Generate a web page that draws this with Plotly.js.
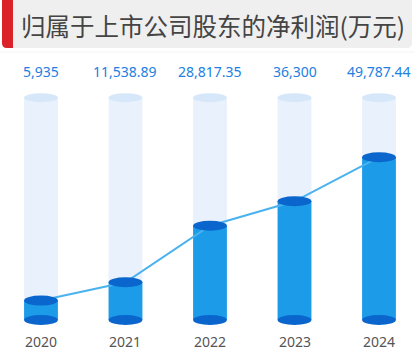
<!DOCTYPE html>
<html>
<head>
<meta charset="utf-8">
<script src="https://cdn.plot.ly/plotly-3.0.1.min.js"></script>
<style>html,body{margin:0;padding:0;background:#fff;}#chart{width:415px;height:353px;}</style>
</head>
<body>
<div id="chart"></div>
<script>
// ---- data ----
const years = ["2020", "2021", "2022", "2023", "2024"];
const profit = [5935, 11538.89, 28817.35, 36300, 49787.44];
const valueLabels = ["5,935", "11,538.89", "28,817.35", "36,300", "49,787.44"];
const titleText = "归属于上市公司股东的净利润(万元)";
const bgMax = 68000;

// ---- layout helpers ----
const W = 415, H = 353;
const idx = years.map((_, i) => i);
const bgVals = years.map(() => bgMax);
const px = x => x / W;
const py = y => 1 - y / H;

function roundRect(x0, y0, x1, y1, rl, rr) {
  const f = (x, y) => px(x) + "," + py(y);
  return "M" + f(x0 + rl, y0) +
    " L" + f(x1 - rr, y0) + " Q" + f(x1, y0) + " " + f(x1, y0 + rr) +
    " L" + f(x1, y1 - rr) + " Q" + f(x1, y1) + " " + f(x1 - rr, y1) +
    " L" + f(x0 + rl, y1) + " Q" + f(x0, y1) + " " + f(x0, y1 - rl) +
    " L" + f(x0, y0 + rl) + " Q" + f(x0, y0) + " " + f(x0 + rl, y0) + " Z";
}

const barW = 0.4;
const cBody = "#1c9be9", cCap = "#0a66cc", cBg = "#e9f1fc", cBgCap = "#d6e7fa", cLine = "#4ab2ee";

const traces = [
  {type: "bar", x: idx, y: bgVals, width: barW, marker: {color: cBg, line: {width: 0}}, hoverinfo: "skip"},
  {type: "bar", x: idx, y: profit, width: barW, marker: {color: cBody, line: {width: 0}}, hoverinfo: "skip"},
  {type: "scatter", mode: "lines", x: idx, y: profit, line: {color: cLine, width: 2}, hoverinfo: "skip"}
];

const shapes = [
  {type: "path", xref: "paper", yref: "paper", path: roundRect(2, -6, 412, 48, 5, 5), fillcolor: "#efefef", line: {width: 0}, layer: "below"},
  {type: "path", xref: "paper", yref: "paper", path: roundRect(2, -6, 13, 48, 5, 0), fillcolor: "#dc2229", line: {width: 0}, layer: "below"},
  {type: "line", xref: "paper", yref: "paper", x0: 0, x1: 1, y0: py(52), y1: py(52), line: {color: "#f3f3f3", width: 1}, layer: "below"}
];
idx.forEach((i) => {
  const ell = (yv, h, col) => ({type: "circle", xref: "x", yref: "y", ysizemode: "pixel", yanchor: yv,
    x0: i - barW / 2, x1: i + barW / 2, y0: -h / 2, y1: h / 2, fillcolor: col, line: {width: 0}, layer: "above"});
  shapes.push(ell(bgMax, 9, cBgCap));
  shapes.push(ell(0, 10, cCap));
  shapes.push(ell(profit[i], 10, cCap));
});

const annotations = [];
idx.forEach((i) => {
  annotations.push({x: i, y: bgMax, xref: "x", yref: "y", yshift: 26, text: valueLabels[i], showarrow: false,
    font: {family: "Noto Sans, sans-serif", size: 14, color: "#2180e2"}, yanchor: "middle"});
  annotations.push({x: i, y: 0, xref: "x", yref: "y", yshift: -21, text: years[i], showarrow: false,
    font: {family: "Noto Sans, sans-serif", size: 14, color: "#555555"}, yanchor: "middle"});
});

const layout = {
  width: W, height: H,
  margin: {l: 0, r: 0, t: 0, b: 0},
  paper_bgcolor: "#ffffff", plot_bgcolor: "#ffffff",
  showlegend: false,
  barmode: "overlay",
  title: {text: titleText, x: 21 / W, xanchor: "left", y: py(27), yanchor: "middle",
    font: {family: "Noto Sans CJK SC, sans-serif", size: 24.5, color: "#444444"}},
  xaxis: {range: [-0.485, 4.426], showgrid: false, zeroline: false, showticklabels: false, ticks: "", fixedrange: true},
  yaxis: {range: [-10092, 97859], showgrid: false, zeroline: false, showticklabels: false, ticks: "", fixedrange: true},
  shapes: shapes,
  annotations: annotations
};

Plotly.newPlot("chart", traces, layout, {displayModeBar: false, staticPlot: true});
</script>
</body>
</html>
